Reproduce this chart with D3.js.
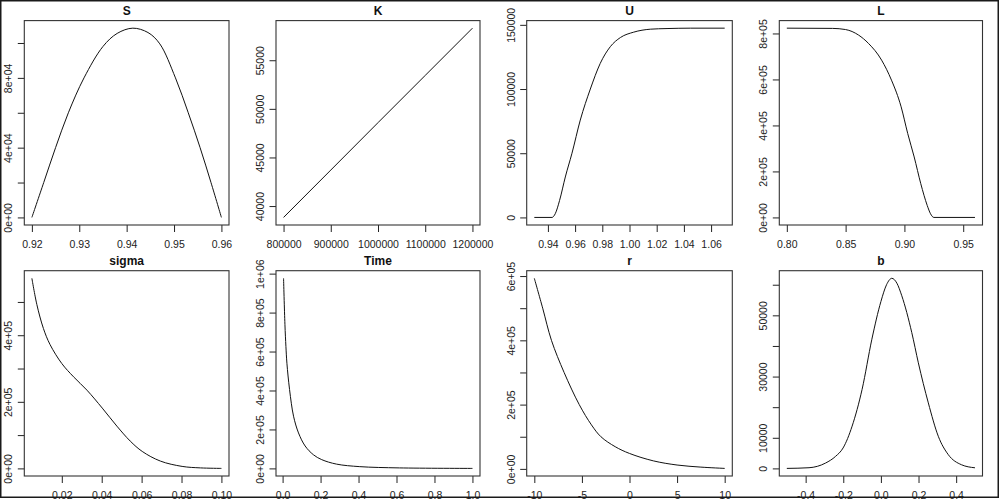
<!DOCTYPE html>
<html>
<head>
<meta charset="utf-8">
<script src="https://cdn.jsdelivr.net/npm/d3@7"></script>
<style>
  body { margin: 0; background: #fff; }
  text { font-family: "Liberation Sans", Arial, sans-serif; }
</style>
</head>
<body>
<div id="chart"></div>
<script>

// values, one pair of arrays per panel
var sX = [0.920, 0.9225, 0.9250, 0.9277, 0.9310, 0.9350, 0.9380, 0.9413, 0.9445, 0.9470, 0.9503, 0.9530, 0.9555, 0.9578, 0.960];
var sY = [0, 20000, 40000, 60000, 80000, 98000, 105500, 108500, 106000, 99500, 80000, 60000, 40000, 20000, 0];

var kX = [800000, 900000, 1000000, 1100000, 1200000];
var kY = [38830, 43700, 48580, 53440, 58300];

var uX = [0.930, 0.943, 0.9454, 0.9486, 0.9528, 0.9577, 0.9638, 0.9712, 0.9785, 0.9859, 0.9933, 1.0031, 1.0153, 1.0276, 1.045, 1.070];
var uY = [0, 0, 2900, 13300, 31500, 50000, 75800, 100000, 120000, 133000, 140100, 144300, 146600, 147100, 147400, 147400];

var lX = [0.800, 0.839, 0.850, 0.861, 0.8694, 0.8806, 0.889, 0.8972, 0.9028, 0.9083, 0.9139, 0.9194, 0.9222, 0.9250, 0.960];
var lY = [823000, 822000, 817000, 793000, 757000, 684000, 597000, 481000, 365000, 263000, 147000, 52000, 16000, 0, 0];

var sigmaX = [0.005, 0.0075, 0.0108, 0.0141, 0.020, 0.0259, 0.0326, 0.0403, 0.0476, 0.0543, 0.0603, 0.0694, 0.0803, 0.0895, 0.100];
var sigmaY = [571000, 492000, 420000, 372000, 315000, 275000, 235000, 181000, 127000, 82000, 51000, 22000, 6000, 1500, 0];

var timeX = [0.005, 0.0122, 0.0175, 0.0227, 0.0366, 0.0576, 0.0838, 0.1187, 0.1623, 0.206, 0.284, 0.4066, 0.616, 1.0];
var timeY = [976000, 740000, 625000, 540000, 405000, 268000, 182000, 115000, 70000, 45000, 22000, 9000, 2500, 0];

var rX = [-10, -9.12, -8.2, -6.87, -5.28, -4.0, -3.0, -1.5, 0, 2.5, 5, 7.5, 10];
var rY = [593000, 500000, 400000, 300000, 200000, 137000, 100000, 69000, 48000, 25000, 12000, 5500, 1500];

var bX = [-0.5, -0.382, -0.294, -0.241, -0.201, -0.153, -0.1, -0.048, 0, 0.03, 0.058, 0.085, 0.111, 0.164, 0.199, 0.252, 0.305, 0.358, 0.428, 0.5];
var bY = [0, 218, 1750, 3930, 6670, 13800, 25800, 42200, 54500, 60000, 62100, 60500, 56400, 44400, 34500, 21400, 10500, 4500, 1200, 200];

// tick values and their labels ("" = tick without label, as R drops crowded ones)
var sXTicks = [0.92, 0.93, 0.94, 0.95, 0.96];
var sXLabels = ["0.92", "0.93", "0.94", "0.95", "0.96"];
var sYTicks = [0, 20000, 40000, 60000, 80000, 100000];
var sYLabels = ["0e+00", "", "4e+04", "", "8e+04", ""];

var kXTicks = [800000, 900000, 1000000, 1100000, 1200000];
var kXLabels = ["800000", "900000", "1000000", "1100000", "1200000"];
var kYTicks = [40000, 45000, 50000, 55000];
var kYLabels = ["40000", "45000", "50000", "55000"];

var uXTicks = [0.94, 0.96, 0.98, 1.00, 1.02, 1.04, 1.06];
var uXLabels = ["0.94", "0.96", "0.98", "1.00", "1.02", "1.04", "1.06"];
var uYTicks = [0, 50000, 100000, 150000];
var uYLabels = ["0", "50000", "100000", "150000"];

var lXTicks = [0.80, 0.85, 0.90, 0.95];
var lXLabels = ["0.80", "0.85", "0.90", "0.95"];
var lYTicks = [0, 200000, 400000, 600000, 800000];
var lYLabels = ["0e+00", "2e+05", "4e+05", "6e+05", "8e+05"];

var sigmaXTicks = [0.02, 0.04, 0.06, 0.08, 0.10];
var sigmaXLabels = ["0.02", "0.04", "0.06", "0.08", "0.10"];
var sigmaYTicks = [0, 100000, 200000, 300000, 400000, 500000];
var sigmaYLabels = ["0e+00", "", "2e+05", "", "4e+05", ""];

var timeXTicks = [0, 0.2, 0.4, 0.6, 0.8, 1.0];
var timeXLabels = ["0.0", "0.2", "0.4", "0.6", "0.8", "1.0"];
var timeYTicks = [0, 200000, 400000, 600000, 800000, 1000000];
var timeYLabels = ["0e+00", "2e+05", "4e+05", "6e+05", "8e+05", "1e+06"];

var rXTicks = [-10, -5, 0, 5, 10];
var rXLabels = ["-10", "-5", "0", "5", "10"];
var rYTicks = [0, 100000, 200000, 300000, 400000, 500000, 600000];
var rYLabels = ["0e+00", "", "2e+05", "", "4e+05", "", "6e+05"];

var bXTicks = [-0.4, -0.2, 0, 0.2, 0.4];
var bXLabels = ["-0.4", "-0.2", "0.0", "0.2", "0.4"];
var bYTicks = [0, 10000, 20000, 30000, 40000, 50000, 60000];
var bYLabels = ["0", "10000", "", "30000", "", "50000", ""];

var smooth = d3.curveCatmullRom.alpha(0.5),
    flat = d3.curveMonotoneX;

var panels = [
  {title: "S", x: sX, y: sY, xt: sXTicks, xl: sXLabels, yt: sYTicks, yl: sYLabels, curve: smooth},
  {title: "K", x: kX, y: kY, xt: kXTicks, xl: kXLabels, yt: kYTicks, yl: kYLabels, curve: flat},
  {title: "U", x: uX, y: uY, xt: uXTicks, xl: uXLabels, yt: uYTicks, yl: uYLabels, curve: flat},
  {title: "L", x: lX, y: lY, xt: lXTicks, xl: lXLabels, yt: lYTicks, yl: lYLabels, curve: flat},
  {title: "sigma", x: sigmaX, y: sigmaY, xt: sigmaXTicks, xl: sigmaXLabels, yt: sigmaYTicks, yl: sigmaYLabels, curve: smooth},
  {title: "Time", x: timeX, y: timeY, xt: timeXTicks, xl: timeXLabels, yt: timeYTicks, yl: timeYLabels, curve: smooth},
  {title: "r", x: rX, y: rY, xt: rXTicks, xl: rXLabels, yt: rYTicks, yl: rYLabels, curve: smooth},
  {title: "b", x: bX, y: bY, xt: bXTicks, xl: bXLabels, yt: bYTicks, yl: bYLabels, curve: flat}
];

// plot box edges
var colLeft = [24.3, 276, 526.7, 779.3],
    colRight = [229, 480, 732.3, 982.5],
    rowTop = [20.6, 270.7],
    rowBottom = [225, 476];

var svg = d3.select("#chart").append("svg")
  .attr("width", 1000)
  .attr("height", 499);

// R style: range extended by 4% on each side
var pad = function(ext) {
  var d = (ext[1] - ext[0]) * 0.04;
  return [ext[0] - d, ext[1] + d];
};

panels.forEach(function(p, i) {
  var col = i % 4, row = Math.floor(i / 4);
  var l = colLeft[col], r = colRight[col], t = rowTop[row], b = rowBottom[row];

  var x = d3.scaleLinear().domain(pad(d3.extent(p.x))).range([l, r]);
  var y = d3.scaleLinear().domain(pad(d3.extent(p.y))).range([b, t]);

  var g = svg.append("g");

  var pts = p.x.map(function(v, k) { return [v, p.y[k]]; });
  g.append("path")
    .datum(pts)
    .attr("d", d3.line()
      .x(function(d) { return x(d[0]); })
      .y(function(d) { return y(d[1]); })
      .curve(p.curve))
    .attr("fill", "none")
    .attr("stroke", "#111")
    .attr("stroke-width", 1);

  // x axis
  var xa = g.append("g")
    .attr("transform", "translate(0," + b + ")")
    .call(d3.axisBottom(x)
      .tickValues(p.xt)
      .tickFormat(function(d, k) { return p.xl[k]; })
      .tickSize(7));
  xa.select(".domain").remove();
  xa.attr("font-family", "Liberation Sans, Arial, sans-serif")
    .attr("font-size", 10.5)
    .attr("color", "#222");
  xa.selectAll("text").attr("y", 22.5).attr("dy", null);

  // y axis, labels turned like R does
  var ya = g.append("g")
    .attr("transform", "translate(" + l + ",0)")
    .call(d3.axisLeft(y)
      .tickValues(p.yt)
      .tickFormat(function(d, k) { return p.yl[k]; })
      .tickSize(6.5));
  ya.select(".domain").remove();
  ya.attr("font-family", "Liberation Sans, Arial, sans-serif")
    .attr("font-size", 10.5)
    .attr("color", "#222");
  ya.selectAll("text")
    .attr("x", 0).attr("y", 0).attr("dy", null)
    .attr("text-anchor", "middle")
    .attr("transform", "translate(-12,0) rotate(-90)");

  g.append("rect")
    .attr("x", l).attr("y", t)
    .attr("width", r - l).attr("height", b - t)
    .attr("fill", "none")
    .attr("stroke", "#333")
    .attr("stroke-width", 1.1);

  g.append("text")
    .attr("x", (l + r) / 2)
    .attr("y", t - 5.3)
    .attr("text-anchor", "middle")
    .attr("font-size", 12)
    .attr("font-weight", "bold")
    .attr("fill", "#111")
    .text(p.title);
});

// frame round the whole picture
svg.append("rect")
  .attr("x", 0.75).attr("y", 0.75)
  .attr("width", 997.5).attr("height", 496.5)
  .attr("fill", "none")
  .attr("stroke", "#1a1a1a")
  .attr("stroke-width", 1.5);

</script>
</body>
</html>
